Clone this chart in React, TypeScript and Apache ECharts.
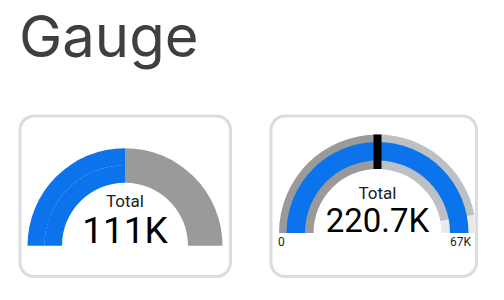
import React, { useEffect, useRef } from "react";
import * as echarts from "echarts";

const pageTitle = "Gauge";
const metricName = "Total";
const gauge1Value = 111000;
const gauge1Max = 222000;
const gauge2Value = 220700;
const gauge2Min = 0;
const gauge2Max = 67000;
const gauge2Target = 33500;
const gauge2BandEnds = [33500, 63000, 67000];
const gauge2BandColors = ["#9a9a9a", "#bdc1c6", "#e8eaed"];

const BLUE = "#0b73eb";
const GRAY = "#9a9a9a";

function fmtK(v: number): string {
  if (Math.abs(v) < 1000) return String(v);
  const k = Math.round((v / 1000) * 10) / 10;
  return (Number.isInteger(k) ? String(k) : k.toFixed(1)) + "K";
}

const hidden = {
  axisTick: { show: false },
  splitLine: { show: false, length: 0, distance: 0 },
  axisLabel: { show: false },
  pointer: { show: false },
  anchor: { show: false },
  title: { show: false },
  detail: { show: false },
};

export default function App() {
  const ref = useRef<HTMLDivElement>(null);
  useEffect(() => {
    if (!ref.current) return;
    const chart = echarts.init(ref.current, undefined, { renderer: "svg" });
    const frac1 = gauge1Value / gauge1Max;
    const c1 = [125, 245.7];
    const c2 = [377.5, 233];
    const bandStops = gauge2BandEnds.map((e, i) => [
      (e - gauge2Min) / (gauge2Max - gauge2Min),
      gauge2BandColors[i],
    ]);
    chart.setOption({
      animation: false,
      graphic: [
        {
          type: "text",
          left: 19,
          top: 7,
          style: {
            text: pageTitle,
            fontFamily: "Inter",
            fontSize: 58,
            fill: "#3c4043",
          },
        },
        {
          type: "rect",
          shape: { x: 20, y: 116, width: 210.5, height: 160.5, r: 14 },
          style: { fill: "#fff", stroke: "#dadce0", lineWidth: 3 },
          z: -10,
        },
        {
          type: "rect",
          shape: { x: 271, y: 116, width: 205.5, height: 160.5, r: 14 },
          style: { fill: "#fff", stroke: "#dadce0", lineWidth: 3 },
          z: -10,
        },
      ],
      series: [
        {
          type: "gauge",
          center: c1,
          radius: 97.5,
          startAngle: 180,
          endAngle: 0,
          min: 0,
          max: gauge1Max,
          ...hidden,
          axisLine: {
            lineStyle: {
              width: 34.5,
              color: [
                [frac1, "rgba(0,0,0,0)"],
                [1, GRAY],
              ],
            },
          },
          progress: { show: true, clip: true, width: 17, itemStyle: { color: BLUE } },
          title: {
            show: true,
            offsetCenter: [0, -44.5],
            fontFamily: "Roboto",
            fontSize: 17,
            lineHeight: 17,
            color: "#202124",
          },
          detail: {
            show: true,
            offsetCenter: [0, -14.8],
            fontFamily: "Roboto",
            fontSize: 37,
            lineHeight: 32,
            fontWeight: "normal",
            color: "#000",
            formatter: (v: number) => fmtK(v),
          },
          data: [{ value: gauge1Value, name: metricName }],
        },
        {
          type: "gauge",
          center: c1,
          radius: 80.6,
          startAngle: 180,
          endAngle: 0,
          min: 0,
          max: gauge1Max,
          ...hidden,
          axisLine: { show: false },
          progress: { show: true, clip: true, width: 17.6, itemStyle: { color: BLUE } },
          data: [{ value: gauge1Value, name: metricName }],
        },
        {
          type: "gauge",
          center: c2,
          radius: 98.5,
          startAngle: 180,
          endAngle: 0,
          min: gauge2Min,
          max: gauge2Max,
          splitNumber: 1,
          ...hidden,
          axisLine: { lineStyle: { width: 34.5, color: bandStops } },
          axisLabel: {
            show: true,
            distance: -1,
            padding: [0, 6, 0, 0],
            lineHeight: 17,
            fontFamily: "Roboto",
            fontSize: 12,
            color: "#202124",
            formatter: (v: number) => "\n" + fmtK(v),
          },
          z: 2,
          data: [{ value: gauge2Value, name: metricName }],
        },
        {
          type: "gauge",
          center: c2,
          radius: 91,
          startAngle: 180,
          endAngle: 0,
          min: gauge2Min,
          max: gauge2Max,
          ...hidden,
          axisLine: { show: false },
          progress: { show: true, clip: true, width: 18.5, itemStyle: { color: BLUE } },
          title: {
            show: true,
            offsetCenter: [0, -40],
            fontFamily: "Roboto",
            fontSize: 17,
            lineHeight: 17,
            color: "#202124",
          },
          detail: {
            show: true,
            offsetCenter: [0, -12.3],
            fontFamily: "Roboto",
            fontSize: 33,
            lineHeight: 30,
            fontWeight: "normal",
            color: "#000",
            formatter: (v: number) => fmtK(v),
          },
          z: 3,
          data: [{ value: gauge2Value, name: metricName }],
        },
        {
          type: "gauge",
          center: c2,
          radius: 98.5,
          startAngle: 180,
          endAngle: 0,
          min: gauge2Min,
          max: gauge2Max,
          ...hidden,
          axisLine: { show: false },
          pointer: {
            show: true,
            icon: "rect",
            width: 8,
            length: 34.5,
            offsetCenter: [0, -64],
            itemStyle: { color: "#000" },
          },
          z: 4,
          data: [{ value: gauge2Target, name: "target" }],
        },
      ],
    });
    return () => chart.dispose();
  }, []);
  return (
    <div
      ref={ref}
      style={{ position: "absolute", left: 0, top: 0, width: 504, height: 300 }}
    />
  );
}
